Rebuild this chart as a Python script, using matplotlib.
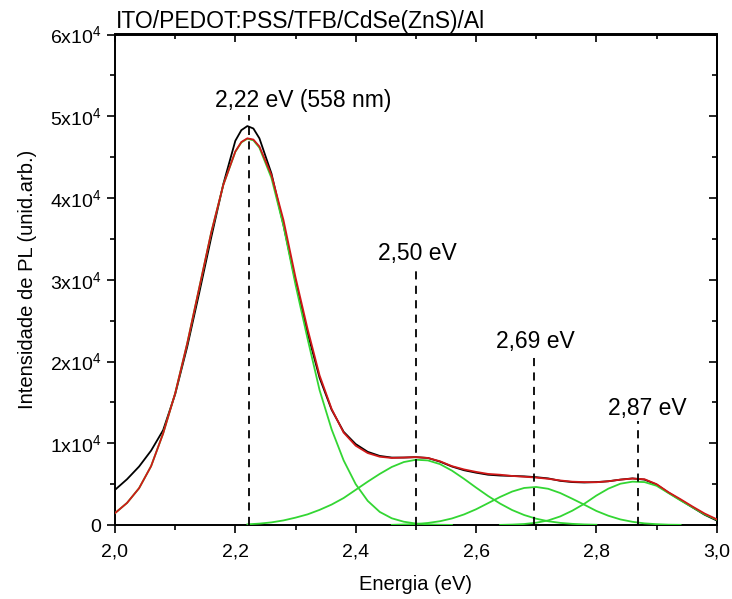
import matplotlib
matplotlib.use('Agg')
import matplotlib.pyplot as plt
from matplotlib.ticker import MultipleLocator, FuncFormatter, NullFormatter

plt.rcParams['font.family'] = 'Liberation Sans'
plt.rcParams['mathtext.fontset'] = 'custom'
plt.rcParams['mathtext.rm'] = 'Liberation Sans'
plt.rcParams['mathtext.it'] = 'Liberation Sans:italic'

# energy grid (eV) for the measured spectrum and the total fit
energia = [2.00, 2.02, 2.04, 2.06, 2.08, 2.10, 2.12, 2.14, 2.16, 2.18, 2.20, 2.21,
           2.22, 2.23, 2.24, 2.26, 2.28, 2.30, 2.32, 2.34, 2.36, 2.38, 2.40, 2.42,
           2.44, 2.46, 2.48, 2.50, 2.52, 2.54, 2.56, 2.58, 2.60, 2.62, 2.64, 2.66,
           2.68, 2.70, 2.72, 2.74, 2.76, 2.78, 2.80, 2.82, 2.84, 2.86, 2.88, 2.90,
           2.92, 2.94, 2.96, 2.98, 3.00]

pl_exp = [4300, 5600, 7150, 9100, 11600, 16000, 21800, 28400, 35200, 41700, 47000, 48300,
          48800, 48500, 47300, 43000, 36700, 29800, 23500, 18000, 14100, 11400, 9900, 8950,
          8450, 8250, 8250, 8300, 8200, 7750, 7150, 6700, 6400, 6150, 6050, 6000,
          5950, 5850, 5700, 5400, 5250, 5200, 5250, 5350, 5550, 5700, 5550, 4950,
          3950, 3050, 2150, 1250, 550]

pl_ajuste = [1450, 2700, 4500, 7200, 11200, 16100, 22200, 29000, 35800, 41600, 45700, 46850,
             47300, 47150, 46300, 42800, 37300, 30300, 24000, 18300, 14200, 11300, 9700, 8800,
             8350, 8200, 8250, 8300, 8200, 7800, 7200, 6800, 6500, 6250, 6150, 6000,
             5900, 5800, 5650, 5450, 5300, 5250, 5230, 5350, 5550, 5680, 5600, 5000,
             4000, 3150, 2250, 1400, 700]

# gaussian components
e_g1 = [2.00, 2.02, 2.04, 2.06, 2.08, 2.10, 2.12, 2.14, 2.16, 2.18, 2.20, 2.21,
        2.22, 2.23, 2.24, 2.26, 2.28, 2.30, 2.32, 2.34, 2.36, 2.38, 2.40, 2.42,
        2.44, 2.46, 2.48, 2.50, 2.52, 2.54, 2.56]
g1 = [1450, 2700, 4500, 7200, 11200, 16100, 22200, 29000, 35800, 41600, 45650, 46800,
      47250, 47050, 46150, 42450, 36600, 29400, 22800, 16500, 11700, 7900, 5000, 2950,
      1600, 820, 400, 180, 80, 30, 10]

e_g2 = [2.22, 2.24, 2.26, 2.28, 2.30, 2.32, 2.34, 2.36, 2.38, 2.40, 2.42, 2.44, 2.46,
        2.48, 2.50, 2.52, 2.54, 2.56, 2.58, 2.60, 2.62, 2.64, 2.66, 2.68, 2.70, 2.72,
        2.74, 2.76, 2.78, 2.80]
g2 = [80, 170, 320, 560, 900, 1300, 1850, 2500, 3300, 4300, 5300, 6250, 7100,
      7700, 7980, 7900, 7450, 6650, 5650, 4580, 3550, 2620, 1830, 1220, 770, 460,
      260, 140, 70, 30]

e_g3 = [2.46, 2.48, 2.50, 2.52, 2.54, 2.56, 2.58, 2.60, 2.62, 2.64, 2.66, 2.68, 2.70,
        2.72, 2.74, 2.76, 2.78, 2.80, 2.82, 2.84, 2.86, 2.88, 2.90, 2.92, 2.94]
g3 = [20, 60, 120, 250, 460, 800, 1290, 1920, 2670, 3430, 4090, 4530, 4650,
      4430, 3910, 3210, 2480, 1720, 1130, 680, 390, 200, 100, 40, 20]

e_g4 = [2.64, 2.66, 2.68, 2.70, 2.72, 2.74, 2.76, 2.78, 2.80, 2.82, 2.84, 2.86, 2.88,
        2.90, 2.92, 2.94, 2.96, 2.98, 3.00]
g4 = [15, 50, 120, 280, 560, 1050, 1750, 2600, 3600, 4450, 5050, 5300, 5250,
      4800, 3900, 3000, 2150, 1300, 650]

# peak markers and their labels
picos = [2.222, 2.50, 2.696, 2.87]
picos_topo = [50200, 31700, 21100, 12700]
rotulos = ['2,22 eV (558 nm)', '2,50 eV', '2,69 eV', '2,87 eV']
rot_x = [2.312, 2.503, 2.698, 2.884]
rot_y = [51900, 33200, 22400, 14200]

fig = plt.figure(figsize=(7.32, 5.99), dpi=100)
ax = fig.add_axes([115/732, 1-525/599, (716.7-115)/732, (525-34.5)/599])

ax.plot(energia, pl_exp, color='black', lw=1.3, zorder=3)
for e, g in [(e_g1, g1), (e_g2, g2), (e_g3, g3), (e_g4, g4)]:
    ax.plot(e, g, color='#33d633', lw=1.3, zorder=4)
ax.plot(energia, pl_ajuste, color='#d01818', lw=1.3, zorder=5)

ax.vlines(picos, 0, picos_topo, colors='black', linestyles=(0, (4.5, 3.5)), lw=1.3, zorder=6)
for t, x, y in zip(rotulos, rot_x, rot_y):
    ax.text(x, y, t, ha='center', va='center', fontsize=16.5)

ax.set_xlim(2.0, 3.0)
ax.set_ylim(0, 60000)
ax.xaxis.set_major_locator(MultipleLocator(0.2))
ax.xaxis.set_minor_locator(MultipleLocator(0.1))
ax.yaxis.set_major_locator(MultipleLocator(10000))
ax.yaxis.set_minor_locator(MultipleLocator(5000))
ax.xaxis.set_major_formatter(FuncFormatter(lambda v, p: f'{v:.1f}'.replace('.', ',')))
ax.yaxis.set_major_formatter(FuncFormatter(
    lambda v, p: '0' if v == 0 else f'{int(round(v / 1e4))}x10$^4$'))

ax.tick_params(which='both', direction='out', width=1.2, labelsize=14, top=False, right=False)
ax.tick_params(which='major', length=6)
ax.tick_params(which='minor', length=3.5)
ax.tick_params(axis='x', which='major', pad=7)
ax.tick_params(axis='y', which='major', pad=4)
for s in ax.spines.values():
    s.set_linewidth(1.4)

# mirrored ticks pointing inward on top and right
secx = ax.secondary_xaxis('top')
secx.xaxis.set_major_locator(MultipleLocator(0.2))
secx.xaxis.set_minor_locator(MultipleLocator(0.1))
secx.xaxis.set_major_formatter(NullFormatter())
secx.tick_params(which='both', direction='in', width=1.2)
secx.tick_params(which='major', length=6)
secx.tick_params(which='minor', length=3.5)
secx.spines['top'].set_linewidth(1.4)
secy = ax.secondary_yaxis('right')
secy.yaxis.set_major_locator(MultipleLocator(10000))
secy.yaxis.set_minor_locator(MultipleLocator(5000))
secy.yaxis.set_major_formatter(NullFormatter())
secy.tick_params(which='both', direction='in', width=1.2)
secy.tick_params(which='major', length=6)
secy.tick_params(which='minor', length=3.5)
secy.spines['right'].set_linewidth(1.4)

ax.set_xlabel('Energia (eV)', fontsize=14.5, va='center')
ax.xaxis.set_label_coords(0.5, (525 - 584) / 490.5)
ax.set_ylabel('Intensidade de PL (unid.arb.)', fontsize=14.5, va='center')
ax.yaxis.set_label_coords((28 - 115) / 601.7, 0.5)
fig.text(116/732, 1-21.5/599, 'ITO/PEDOT:PSS/TFB/CdSe(ZnS)/Al', ha='left', va='center', fontsize=16.5)

fig.savefig('out.png', dpi=100)
